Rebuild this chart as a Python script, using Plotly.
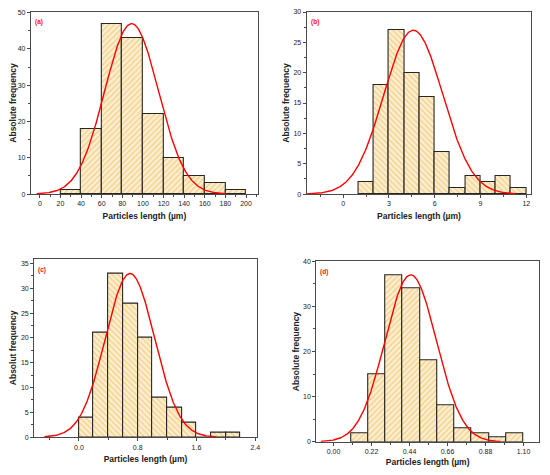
import numpy as np
import plotly.graph_objects as go
from plotly.subplots import make_subplots

# histogram counts
counts_a = [1, 18, 47, 43, 22, 10, 5, 3, 1]
edges_a = [20, 40, 60, 80, 100, 120, 140, 160, 180]
width_a = 20

counts_b = [2, 18, 27, 20, 16, 7, 1, 3, 2, 3, 1]
edges_b = [1, 2, 3, 4, 5, 6, 7, 8, 9, 10, 11]
width_b = 1

counts_c = [4, 21, 33, 27, 20, 8, 6, 3, 0, 1, 1]
edges_c = [0.0, 0.2, 0.4, 0.6, 0.8, 1.0, 1.2, 1.4, 1.6, 1.8, 2.0]
width_c = 0.2

counts_d = [2, 15, 37, 34, 18, 8, 3, 2, 1, 2]
edges_d = [0.1, 0.2, 0.3, 0.4, 0.5, 0.6, 0.7, 0.8, 0.9, 1.0]
width_d = 0.1

# normal fit: (mean, sigma, peak height, curve start, curve end)
fit_a = (89.0, 26.0, 47.0, -3.0, 180.5)
fit_b = (4.6, 1.93, 27.0, -2.39, 11.3)
fit_c = (0.695, 0.335, 33.0, -0.47, 1.86)
fit_d = (0.447, 0.149, 37.0, -0.073, 0.966)

panels = [
    dict(counts=counts_a, edges=edges_a, width=width_a, fit=fit_a, label="(a)",
         ytitle="Absolute frequency", hatch="/",
         xrange=[-8.7, 211.5], xdtick=20, xminor=10, yrange=[0, 50.2], ydtick=10, yminor=5,
         xdom=[31, 259.3], ydom=[7.3, 193.3], tickformat=None),
    dict(counts=counts_b, edges=edges_b, width=width_b, fit=fit_b, label="(b)",
         ytitle="Absolute frequency", hatch="\\",
         xrange=[-2.39, 12.33], xdtick=3, xminor=1.5, yrange=[0, 30], ydtick=5, yminor=2.5,
         xdom=[308.3, 534.3], ydom=[7.3, 193.3], tickformat=None),
    dict(counts=counts_c, edges=edges_c, width=width_c, fit=fit_c, label="(c)",
         ytitle="Absolut frequency", hatch="\\",
         xrange=[-0.609, 2.422], xdtick=0.8, xminor=0.4, yrange=[0, 36], ydtick=5, yminor=2.5,
         xdom=[34.3, 258.3], ydom=[259, 440.7], tickformat=".1f"),
    dict(counts=counts_d, edges=edges_d, width=width_d, fit=fit_d, label="(d)",
         ytitle="Absolute frequency", hatch="/",
         xrange=[-0.1, 1.19], xdtick=0.22, xminor=0.11, yrange=[0, 40], ydtick=10, yminor=5,
         xdom=[318, 542], ydom=[261.7, 445.5], tickformat=".2f"),
]

# page body has an 8px margin, so the figure is shrunk by it and positions shifted
OFF = 8
W, H = 550 - 2 * OFF, 475 - 2 * OFF
FONT = "Liberation Sans, Arial, sans-serif"
AXIS_COLOR = "#4a4a4a"


def px_x(v):
    return (v - OFF) / W


def px_y(v):
    return 1 - (v - OFF) / H


fig = make_subplots(rows=2, cols=2)

for i, p in enumerate(panels):
    row, col = i // 2 + 1, i % 2 + 1
    centers = [e + p["width"] / 2 for e in p["edges"]]
    fig.add_trace(
        go.Bar(
            x=centers,
            y=p["counts"],
            width=p["width"],
            marker=dict(
                color="#fdf0d3",
                pattern=dict(shape=p["hatch"], fgcolor="#edb650", bgcolor="#fdf0d3",
                             size=4, solidity=0.4),
                line=dict(color="#262626", width=1.1),
            ),
            showlegend=False,
        ),
        row=row, col=col,
    )

    mu, sigma, peak, x0, x1 = p["fit"]
    xs = np.linspace(x0, x1, 300)
    ys = peak * np.exp(-((xs - mu) ** 2) / (2 * sigma ** 2))
    fig.add_trace(
        go.Scatter(x=xs, y=ys, mode="lines", line=dict(color="#ff0000", width=1.4),
                   showlegend=False),
        row=row, col=col,
    )

    xd = [max(0, px_x(p["xdom"][0])), min(1, px_x(p["xdom"][1]))]
    yd = [max(0, px_y(p["ydom"][1])), min(1, px_y(p["ydom"][0]))]

    fig.update_xaxes(
        domain=xd, range=p["xrange"], dtick=p["xdtick"], tick0=0,
        tickformat=p["tickformat"],
        ticks="outside", ticklen=3, tickwidth=1, tickcolor=AXIS_COLOR,
        minor=dict(dtick=p["xminor"], tick0=0, ticks="outside", ticklen=2, tickcolor=AXIS_COLOR),
        showline=True, linecolor=AXIS_COLOR, linewidth=1, mirror=True,
        showgrid=False, zeroline=False,
        tickfont=dict(family=FONT, size=7, color="#222222"),
        title=dict(text="<b>Particles length (µm)</b>", standoff=6,
                   font=dict(family=FONT, size=8.5, color="#222222")),
        row=row, col=col,
    )
    fig.update_yaxes(
        domain=yd, range=p["yrange"], dtick=p["ydtick"], tick0=0,
        ticks="outside", ticklen=3, tickwidth=1, tickcolor=AXIS_COLOR,
        minor=dict(dtick=p["yminor"], tick0=0, ticks="outside", ticklen=2, tickcolor=AXIS_COLOR),
        showline=True, linecolor=AXIS_COLOR, linewidth=1, mirror=True,
        showgrid=False, zeroline=False,
        tickfont=dict(family=FONT, size=7, color="#222222"),
        title=dict(text="<b>" + p["ytitle"] + "</b>", standoff=2,
                   font=dict(family=FONT, size=8.5, color="#222222")),
        row=row, col=col,
    )

    fig.add_annotation(
        x=px_x(p["xdom"][0] + 2), y=px_y(p["ydom"][0] + 5),
        xref="paper", yref="paper", xanchor="left", yanchor="top",
        text="<b>" + p["label"] + "</b>", showarrow=False,
        font=dict(family=FONT, size=6.5, color="#ff1010"),
    )

fig.update_layout(
    width=W, height=H,
    margin=dict(l=0, r=0, t=0, b=0),
    paper_bgcolor="white", plot_bgcolor="white",
    bargap=0,
)

fig.write_html("out.html")
